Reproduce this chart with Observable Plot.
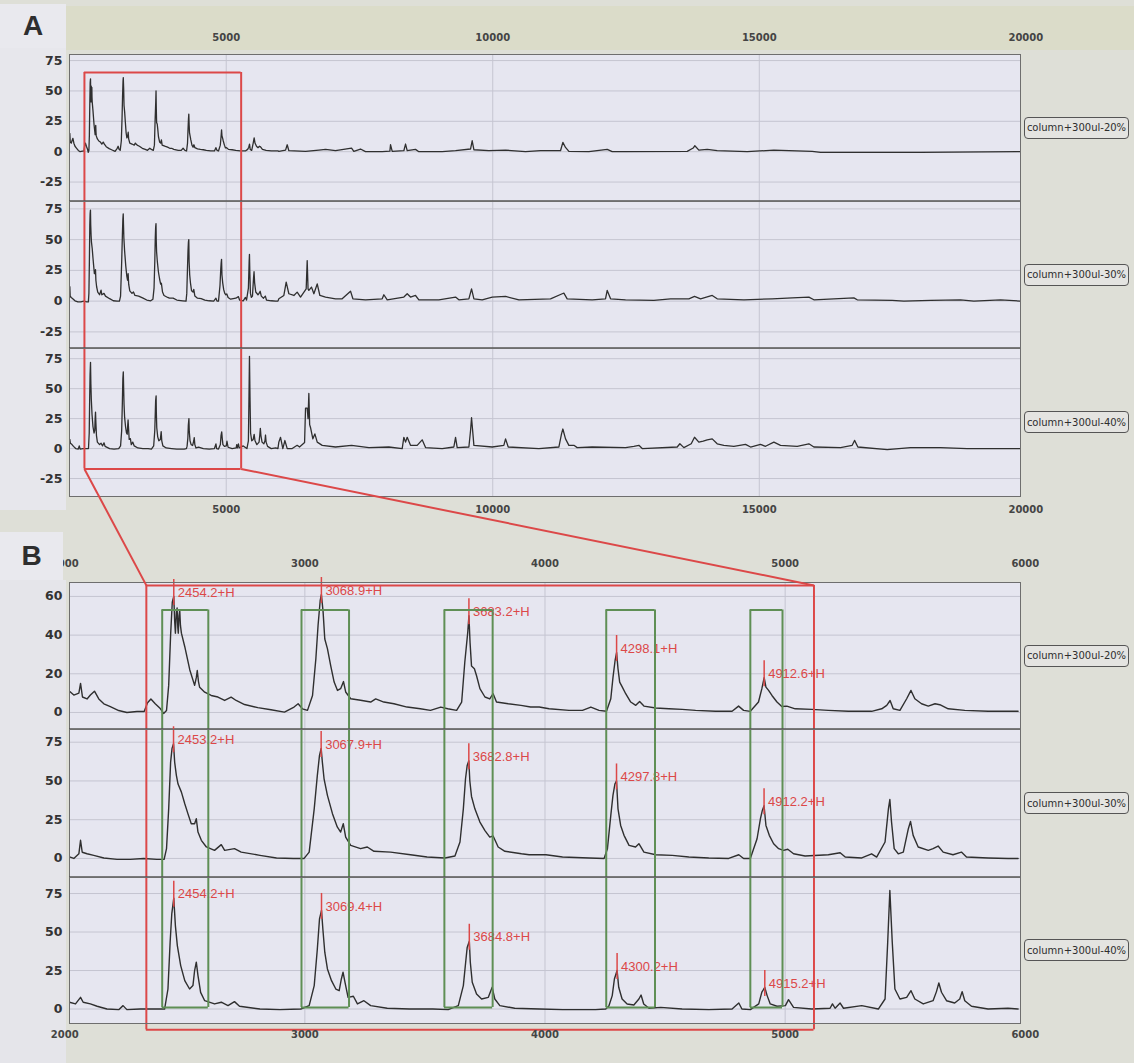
<!DOCTYPE html>
<html>
<head>
<meta charset="utf-8">
<script src="https://cdn.jsdelivr.net/npm/d3@7"></script>
<script src="https://cdn.jsdelivr.net/npm/@observablehq/plot@0.6"></script>
<style>
  html, body { margin: 0; padding: 0; background: #dedfd7; }
  #fig { position: relative; width: 1134px; height: 1063px; overflow: hidden; background: #dedfd7; }
  .sub { position: absolute; left: 0; z-index: 1; }
  .sub svg { display: block; }
  .shade { position: absolute; z-index: 0; }
  .legend { position: absolute; left: 1024px; width: 105px; height: 22px; box-sizing: border-box;
            border: 1px solid #555; border-radius: 4px; font: 10px "DejaVu Sans", sans-serif; color: #2e2e2e;
            display: flex; align-items: center; justify-content: center; background: #e4e4e1; z-index: 2; }
  .panel-label { position: absolute; z-index: 4; font: bold 28px "Liberation Sans", Arial, sans-serif; color: #2e2e2e;
                 display: flex; align-items: center; justify-content: center; }
  #overlay { position: absolute; left: 0; top: 0; z-index: 3; pointer-events: none; }
</style>
</head>
<body>
<div id="fig"></div>
<script>
// ---- axis ticks ----
const ticksA = [5000, 10000, 15000, 20000];
const gridA = [5000, 10000, 15000];
const ticksB = [2000, 3000, 4000, 5000, 6000];
const gridB = [3000, 4000, 5000];
const intensityTicksA = [-25, 0, 25, 50, 75];
const intensityTicksB20 = [0, 20, 40, 60];
const intensityTicksB = [0, 25, 50, 75];

const samples = ["column+300ul-20%", "column+300ul-30%", "column+300ul-40%"];

// ---- spectra, [m/z, intensity] ----
// 2020-5980 Da (shown in both panels)
const spec20Low = [[2020,11],[2038,9],[2059,10],[2066,15],[2074,8],[2093,7],[2107,9],[2124,11],[2142,7],[2163,4.5],[2190,3],[2225,1],[2259,0],[2301,0.5],[2331,0.5],[2345,5],[2359,7],[2377,4.5],[2398,2],[2412,-0.5],[2424,1],[2433,14],[2441,40],[2448,57],[2454.2,60],[2458,47],[2461,41],[2465,52],[2468,54],[2471,44],[2473,41],[2476,50],[2479,53],[2482,45],[2486,41],[2500,34],[2521,22],[2541,14],[2548,18],[2552,21.7],[2557,16],[2562,13],[2583,10.5],[2610,8.8],[2638,8],[2666,6.2],[2693,7.9],[2714,6.2],[2749,4.1],[2804,2.5],[2859,1.4],[2915,0.2],[2955,2.8],[2972,4.5],[2990,1.9],[3011,1.1],[3032,8.8],[3046,28],[3055,45],[3064,58],[3068.9,61],[3076,52],[3083,38],[3094,33],[3108,24],[3122,15.7],[3136,11.4],[3149,12.3],[3161,16],[3170,10.6],[3191,7.1],[3232,6.3],[3274,5.4],[3295,7],[3329,5.4],[3371,4.5],[3426,2.8],[3481,1.9],[3523,1.1],[3566,2.8],[3595,1.9],[3632,1.1],[3653,5.4],[3666,26],[3678,41],[3683.2,50],[3688,36],[3694,24],[3706,22.6],[3715,19],[3729,12.3],[3750,8],[3770,7],[3784,9.7],[3798,5.4],[3847,4.5],[3900,3.7],[3940,2.8],[3976,2.8],[4017,1.9],[4100,1.1],[4156,1.1],[4191,2.8],[4225,1.1],[4256,0.6],[4274,7.1],[4283,18],[4292,27],[4298.1,31],[4304,22.6],[4311,15.7],[4322,13.1],[4336,9.7],[4357,5.4],[4378,3.7],[4394,5.7],[4412,3.3],[4461,2.3],[4516,1.9],[4571,1.6],[4627,1.1],[4710,0.6],[4779,0.6],[4806,3.3],[4827,1.1],[4855,0.6],[4889,5.4],[4903,12.3],[4912.6,18],[4920,13.1],[4931,11.4],[4945,8.8],[4966,5.4],[4986,3.1],[5007,3.3],[5042,1.9],[5111,1.6],[5180,1.1],[5263,0.6],[5360,0.6],[5402,1.9],[5423,3.7],[5437,6.2],[5450,1.9],[5478,1.1],[5506,7.1],[5524,11.4],[5540,7.1],[5568,4.5],[5596,3.3],[5624,4.5],[5644,4],[5679,1.9],[5748,1.1],[5845,0.6],[5970,0.6]];
const spec30Low = [[2020,1],[2038,0],[2059,3],[2066,11.7],[2073,4],[2093,3],[2121,2],[2163,0.3],[2218,-0.6],[2273,-0.6],[2329,0],[2384,-0.6],[2414,-0.6],[2424,6.3],[2433,32],[2441,62],[2447,71],[2453.2,74],[2458,62],[2465,53.6],[2472,48],[2486,42.8],[2500,35.3],[2513,28.9],[2527,22.4],[2541,22.4],[2548,25.6],[2555,17],[2569,11.7],[2590,7.4],[2624,5.2],[2652,8.9],[2666,5.2],[2707,6.3],[2735,4.1],[2813,2],[2882,0.3],[2952,0],[2997,0],[3018,4.1],[3039,32],[3052,53.6],[3061,66.5],[3067.9,71],[3073,62],[3080,51.4],[3094,40.7],[3115,28.9],[3135,20.3],[3149,17],[3160,22.4],[3170,13.8],[3191,8.4],[3232,6.3],[3260,7.4],[3288,4.6],[3357,4.1],[3440,2.4],[3509,0.9],[3583,0.3],[3625,1.6],[3646,10.6],[3660,32],[3669,51.4],[3676,60],[3682.8,63],[3687,50],[3694,40],[3708,32],[3729,23.5],[3750,18],[3770,13.8],[3784,14.5],[3805,7.4],[3833,4.6],[3902,3],[3934,2.4],[4004,2.4],[4073,0.9],[4184,0.3],[4246,0],[4260,6.3],[4274,27.8],[4283,40.7],[4291,48],[4297.8,50],[4304,32],[4315,21.3],[4329,14.9],[4350,8.4],[4377,7.4],[4391,9.5],[4412,4.1],[4461,2.4],[4530,2],[4599,0.9],[4682,0.3],[4765,0],[4807,2.4],[4827,0],[4855,0],[4883,12.7],[4897,25.6],[4905,31],[4912.2,34],[4920,21.3],[4934,14.9],[4952,9.5],[4973,6.3],[4993,5.2],[5011,5.9],[5035,3],[5083,1.6],[5180,2.4],[5229,3.7],[5250,0.9],[5319,0.3],[5360,3],[5381,0.9],[5416,10.6],[5430,32],[5436,38],[5443,23.5],[5454,6.3],[5471,3],[5492,4.1],[5513,19.2],[5522,23.9],[5533,14.9],[5554,7.4],[5596,5.2],[5616,6.3],[5637,8],[5658,4.1],[5699,2.4],[5734,4.1],[5755,0.9],[5845,0.3],[5928,0],[5970,0]];
const spec40Low = [[2020,4.4],[2045,3.3],[2066,7.6],[2077,4.4],[2107,3.3],[2135,1.8],[2176,0],[2225,-0.4],[2243,2.2],[2259,-0.4],[2315,0],[2370,0],[2416,0],[2430,13],[2439,43.3],[2446,62],[2454.2,72],[2461,54],[2469,41.2],[2483,28.2],[2500,18.4],[2520,13],[2534,15.2],[2541,25],[2548,30.4],[2555,21.7],[2566,10.8],[2583,5.4],[2624,3.3],[2652,4.4],[2680,2.2],[2707,4.8],[2728,1.8],[2813,0],[2896,-0.4],[2983,0],[3018,2.2],[3039,15.2],[3052,39],[3061,58.5],[3069.4,64],[3075,52],[3083,36.9],[3094,26],[3111,18.4],[3129,13],[3143,11.9],[3152,19.5],[3159,23.9],[3167,17.4],[3180,7.6],[3202,8.3],[3219,3.3],[3246,5.4],[3274,2.2],[3343,0.5],[3436,0],[3533,0],[3597,-0.4],[3639,2.2],[3660,15.2],[3671,32.5],[3676,40],[3684.8,44],[3689,30.4],[3697,17.4],[3715,9.8],[3736,6.5],[3764,7.6],[3780,14.1],[3791,6.5],[3812,2.2],[3874,0.5],[3976,0],[4073,-0.4],[4211,-0.4],[4253,0],[4266,2],[4280,8.7],[4289,19.5],[4300.2,25],[4307,14.1],[4321,6.5],[4342,3.3],[4370,2.6],[4391,6.5],[4400,9.1],[4411,3.3],[4433,0.5],[4482,1.1],[4571,0],[4682,-0.4],[4779,0],[4807,3.9],[4820,0],[4855,-0.4],[4890,3.3],[4903,11],[4915.2,14],[4925,8.7],[4938,3.3],[4966,1.8],[5001,2.2],[5014,6.1],[5035,1.1],[5111,0],[5187,0.5],[5197,3.3],[5208,0.5],[5229,3.9],[5243,0.5],[5319,2.2],[5388,0],[5416,6.5],[5427,43.3],[5436,77],[5446,43.3],[5457,13],[5478,6.5],[5506,7.6],[5524,11.9],[5540,6.5],[5575,3.3],[5616,5.4],[5630,11.3],[5640,16.9],[5651,10.9],[5672,5.4],[5706,3.9],[5727,6.5],[5737,11.3],[5748,5.4],[5776,1.8],[5845,0],[5928,0.5],[5970,0]];
// 5980-19900 Da (panel A only)
const spec20High = [[5987,0.3],[6113,1.3],[6144,5.7],[6175,0.8],[6488,0.3],[6738,1.3],[6863,1.9],[7050,0.8],[7351,3],[7394,0.3],[7519,2.2],[7613,0],[7926,0],[8070,0.5],[8082,5.7],[8114,0.3],[8332,0.8],[8364,6.3],[8395,0.8],[8551,1.9],[8614,0],[9051,0],[9302,0.8],[9583,2.2],[9614,9],[9646,1.6],[9927,0.8],[10240,1.3],[10615,0],[10896,0.8],[11271,0.8],[11315,7.7],[11365,3.5],[11428,0.3],[11803,0],[12147,1.9],[12241,0],[12491,0],[13648,0.3],[13760,3],[13791,4.9],[13866,1.3],[14023,1.9],[14210,0.8],[14773,0],[15273,1.3],[15992,0.3],[16149,-0.6],[18025,-0.6],[19901,0]];
const spec30High = [[5987,1.9],[6081,4.6],[6125,15.5],[6175,6],[6269,4.6],[6331,7.3],[6394,3.3],[6500,10],[6519,33],[6535,10],[6550,8.7],[6600,11.4],[6644,6],[6707,14],[6757,4.6],[6863,3.3],[7050,1.9],[7175,1.9],[7332,8.1],[7376,1.9],[7613,1.1],[7926,1.9],[7957,5.2],[8020,1.1],[8332,3.3],[8395,6],[8457,3.3],[8551,4.6],[8614,1.1],[8989,1.1],[9302,3.3],[9364,1.1],[9552,1.9],[9602,10],[9646,1.9],[9802,1.1],[9990,3.3],[10240,3.8],[10490,1.1],[11084,1.9],[11303,6],[11334,6.5],[11396,1.9],[11865,1.1],[12115,1.9],[12147,8.7],[12210,1.9],[12491,1.1],[13022,0.6],[13335,1.9],[13679,1.9],[13785,3.8],[13898,1.9],[14117,4.6],[14210,1.9],[14711,1.1],[15242,1.9],[15617,2.7],[15930,3.3],[16024,1.1],[16774,2.7],[16837,1.1],[17493,0.6],[17712,0],[18213,0.6],[18775,1.1],[19025,0],[19526,1.1],[19901,0]];
const spec40High = [[5987,5.4],[6019,9.4],[6062,0],[6100,6.7],[6144,0],[6238,0],[6331,2.7],[6375,1.3],[6470,5],[6488,33.8],[6519,33.8],[6535,25],[6550,46],[6565,20],[6581,17.6],[6625,8.1],[6663,12.2],[6707,5.4],[6801,2.7],[7050,1.3],[7351,2.7],[7676,0.8],[8051,1.3],[8301,0],[8332,9.4],[8364,5.4],[8395,9.4],[8457,2.7],[8582,2.7],[8676,7.3],[8739,0.8],[9051,0],[9270,1.3],[9302,9.4],[9333,0.8],[9552,1.3],[9583,14.9],[9602,25.7],[9646,2.7],[9990,1.3],[10208,2.7],[10240,8.1],[10290,1.3],[10865,0],[11240,1.3],[11290,12.2],[11315,16.3],[11365,8.1],[11428,2.7],[11522,2.7],[11584,0.8],[11865,1.3],[12491,0.8],[12647,1.9],[12741,2.7],[12804,0],[13460,1.3],[13510,4],[13585,0.8],[13723,4],[13785,9.4],[13866,5.4],[13948,6.2],[14023,7.3],[14117,8.1],[14210,4],[14335,2.7],[14523,1.9],[14742,3.5],[14836,1.3],[15023,3.5],[15117,1.9],[15273,5.4],[15398,2.7],[15711,1.9],[15930,4],[16024,1.3],[16524,0.8],[16743,2.7],[16787,6.8],[16849,1.3],[17399,-0.9],[17837,0.8],[18400,0.8],[18900,0],[19901,0]];

// ---- annotated [M+H]+ peaks: [m/z, apex intensity, label] ----
const peaks20 = [[2454.2,60,"2454.2+H"],[3068.9,61,"3068.9+H"],[3683.2,50,"3683.2+H"],[4298.1,31,"4298.1+H"],[4912.6,18,"4912.6+H"]];
const peaks30 = [[2453.2,74,"2453.2+H"],[3067.9,71,"3067.9+H"],[3682.8,63,"3682.8+H"],[4297.8,50,"4297.8+H"],[4912.2,34,"4912.2+H"]];
const peaks40 = [[2454.2,72,"2454.2+H"],[3069.4,64,"3069.4+H"],[3684.8,44,"3684.8+H"],[4300.2,25,"4300.2+H"],[4915.2,14,"4915.2+H"]];

// ---- boxed m/z windows in panel B ----
const windowsB = [[2406,2598],[2986,3184],[3581,3782],[4255,4458],[4855,4989]];
const windowTop20 = 53;     // top edge, on the 20% trace scale
const windowBottom40 = 1;   // bottom edge, on the 40% trace scale

// ---- enlarged region ----
const zoomA = [2340, 5280], zoomTopA = 65.2, zoomBottomA = -17;
const zoomB = [2340, 5120], zoomTopB = 65.7, zoomBottomB = -13.5;

// ---- styling ----
const W = 1134, ML = 69, MR = W - 1020;
const RED = "#dc4848", GREEN = "#5f8f55", TRACE = "#2f2f2f", GRID = "#c5c5d1",
      PLOTBG = "#e6e6f0", FRAME = "#6e6e6e", DIVIDER = "#555", TICKTXT = "#333";
const tickFont = "DejaVu Sans, Verdana, sans-serif";
const fig = document.getElementById("fig");

function subplot(o) {
  const [lo, hi] = o.yDomain;
  const ppu = o.frameH / (hi - lo);
  const marks = [
    Plot.frame({fill: PLOTBG, stroke: "none"}),
    Plot.ruleY(o.yTicks, {y: d => d, stroke: GRID, strokeWidth: 1}),
    Plot.ruleX(o.xGrid, {x: d => d, stroke: GRID, strokeWidth: 1}),
    Plot.line(o.spectrum, {x: d => d[0], y: d => d[1], stroke: TRACE, strokeWidth: o.lineWidth, strokeLinejoin: "round", clip: true})
  ];
  if (o.peaks) {
    marks.push(
      Plot.ruleX(o.peaks, {x: d => d[0], y1: d => d[1] - 9 / ppu, y2: d => d[1] + 17 / ppu, stroke: RED, strokeWidth: 1.5}),
      Plot.text(o.peaks, {x: d => d[0], y: d => d[1], text: d => d[2], dx: 4, dy: -4, textAnchor: "start",
        fill: RED, fontSize: 13, fontFamily: "Liberation Sans, Arial, sans-serif"})
    );
  }
  if (o.windows) {
    const edges = o.windows.flat();
    const wTop = o.windows.top ?? hi, wBottom = o.windows.bottom ?? lo;
    marks.push(Plot.ruleX(edges, {x: d => d, y1: wBottom, y2: wTop, stroke: GREEN, strokeWidth: 2}));
    if (o.windows.top !== undefined)
      marks.push(Plot.ruleY(o.windows, {y: o.windows.top, x1: d => d[0], x2: d => d[1], stroke: GREEN, strokeWidth: 2}));
    if (o.windows.bottom !== undefined)
      marks.push(Plot.ruleY(o.windows, {y: o.windows.bottom, x1: d => d[0], x2: d => d[1], stroke: GREEN, strokeWidth: 2}));
  }
  // enlarged-region outline
  const z = o.zoom, zTop = z.top ?? hi, zBottom = z.bottom ?? lo;
  marks.push(Plot.ruleX(z.range, {x: d => d, y1: zBottom, y2: zTop, stroke: RED, strokeWidth: 2}));
  if (z.top !== undefined) marks.push(Plot.ruleY([z.top], {y: d => d, x1: z.range[0], x2: z.range[1], stroke: RED, strokeWidth: 2}));
  if (z.bottom !== undefined) marks.push(Plot.ruleY([z.bottom], {y: d => d, x1: z.range[0], x2: z.range[1], stroke: RED, strokeWidth: 2}));

  marks.push(Plot.frame({stroke: FRAME, strokeWidth: 1}));
  if (o.divider) marks.push(Plot.ruleY([lo], {y: d => d, stroke: DIVIDER, strokeWidth: 2.5}));

  marks.push(Plot.text(o.yTicks, {y: d => d, text: d => String(d), frameAnchor: "left", dx: -7, textAnchor: "end",
    fill: TICKTXT, fontSize: 12.5, fontWeight: "bold", fontFamily: tickFont}));
  if (o.topTicks) marks.push(Plot.text(o.topTicks, {x: d => d, text: d => String(d), frameAnchor: "top", dy: o.topDy,
    fill: "#444", fontSize: 10, fontWeight: "bold", fontFamily: tickFont}));
  if (o.bottomTicks) marks.push(Plot.text(o.bottomTicks, {x: d => d, text: d => String(d), frameAnchor: "bottom", dy: o.bottomDy,
    fill: "#444", fontSize: 10, fontWeight: "bold", fontFamily: tickFont}));

  const chart = Plot.plot({
    width: W, height: o.mt + o.frameH + o.mb,
    marginLeft: ML, marginRight: MR, marginTop: o.mt, marginBottom: o.mb,
    x: {domain: o.xDomain, axis: null},
    y: {domain: o.yDomain, axis: null},
    style: {background: "transparent", overflow: "visible"},
    marks
  });
  const holder = document.createElement("div");
  holder.className = "sub";
  holder.style.top = o.top + "px";
  holder.appendChild(chart);
  fig.appendChild(holder);

  const legend = document.createElement("div");
  legend.className = "legend";
  legend.textContent = o.sample;
  legend.style.top = (o.top + o.mt + o.frameH / 2 - 11) + "px";
  fig.appendChild(legend);
  return chart;
}

function shade(left, top, width, height, color) {
  const d = document.createElement("div");
  d.className = "shade";
  Object.assign(d.style, {left: left + "px", top: top + "px", width: width + "px", height: height + "px", background: color});
  fig.appendChild(d);
}
shade(0, 48, 66, 462, "#e7e7ec");
shade(0, 580, 66, 483, "#e5e5ea");
shade(66, 6, 1068, 44, "#dbdcc9");

// ---- panel A: 2 - 20 kDa ----
const xDomainA = [2060, 19900];
const zA = (top, bottom) => ({range: zoomA, top, bottom});
subplot({top: 0, mt: 54, frameH: 147, mb: 0, xDomain: xDomainA, yDomain: [-41, 80], yTicks: intensityTicksA, xGrid: gridA,
  spectrum: spec20Low.concat(spec20High), lineWidth: 1.3, zoom: zA(zoomTopA, undefined), divider: true,
  topTicks: ticksA, topDy: -21, sample: samples[0]});
subplot({top: 201, mt: 0, frameH: 147, mb: 0, xDomain: xDomainA, yDomain: [-38.5, 81], yTicks: intensityTicksA, xGrid: gridA,
  spectrum: spec30Low.concat(spec30High), lineWidth: 1.3, zoom: zA(undefined, undefined), divider: true, sample: samples[1]});
const a3 = subplot({top: 348, mt: 0, frameH: 148, mb: 30, xDomain: xDomainA, yDomain: [-40, 83.5], yTicks: intensityTicksA, xGrid: gridA,
  spectrum: spec40Low.concat(spec40High), lineWidth: 1.3, zoom: zA(undefined, zoomBottomA),
  bottomTicks: ticksA, bottomDy: 16, sample: samples[2]});

// ---- panel B: 2 - 6 kDa ----
const xDomainB = [2020, 5980];
const zB = (top, bottom) => ({range: zoomB, top, bottom});
const winTop = Object.assign(windowsB.slice(), {top: windowTop20});
const winMid = windowsB.slice();
const winBottom = Object.assign(windowsB.slice(), {bottom: windowBottom40});
const b1 = subplot({top: 530, mt: 52, frameH: 147, mb: 0, xDomain: xDomainB, yDomain: [-8.8, 67.2], yTicks: intensityTicksB20, xGrid: gridB,
  spectrum: spec20Low, lineWidth: 1.4, peaks: peaks20, windows: winTop, zoom: zB(zoomTopB, undefined), divider: true,
  topTicks: ticksB, topDy: -23, sample: samples[0]});
subplot({top: 729, mt: 0, frameH: 148, mb: 0, xDomain: xDomainB, yDomain: [-12.3, 83.2], yTicks: intensityTicksB, xGrid: gridB,
  spectrum: spec30Low, lineWidth: 1.4, peaks: peaks30, windows: winMid, zoom: zB(undefined, undefined), divider: true, sample: samples[1]});
subplot({top: 877, mt: 0, frameH: 146, mb: 40, xDomain: xDomainB, yDomain: [-9.4, 85.4], yTicks: intensityTicksB, xGrid: gridB,
  spectrum: spec40Low, lineWidth: 1.4, peaks: peaks40, windows: winBottom, zoom: zB(undefined, zoomBottomB),
  bottomTicks: ticksB, bottomDy: 14, sample: samples[2]});

// ---- connectors from the outlined region in A to panel B ----
const xa = a3.scale("x"), ya = a3.scale("y"), xb = b1.scale("x"), yb = b1.scale("y");
const connectors = [0, 1].map(i => ({
  x1: xa.apply(zoomA[i]), y1: 348 + ya.apply(zoomBottomA),
  x2: xb.apply(zoomB[i]), y2: 530 + yb.apply(zoomTopB)
}));
const overlay = Plot.plot({
  width: W, height: 1063, margin: 0,
  x: {type: "identity", axis: null}, y: {type: "identity", axis: null},
  style: {background: "transparent"},
  marks: [Plot.link(connectors, {x1: "x1", y1: "y1", x2: "x2", y2: "y2", stroke: RED, strokeWidth: 2})]
});
overlay.id = "overlay";
fig.appendChild(overlay);

// ---- panel letters ----
function panelLabel(text, left, top, width, height, bg) {
  const d = document.createElement("div");
  d.className = "panel-label";
  d.textContent = text;
  Object.assign(d.style, {left: left + "px", top: top + "px", width: width + "px", height: height + "px", background: bg});
  fig.appendChild(d);
}
panelLabel("A", 0, 4, 66, 44, "#e9e9ee");
panelLabel("B", 0, 532, 63, 48, "#e9e9ee");
</script>
</body>
</html>
